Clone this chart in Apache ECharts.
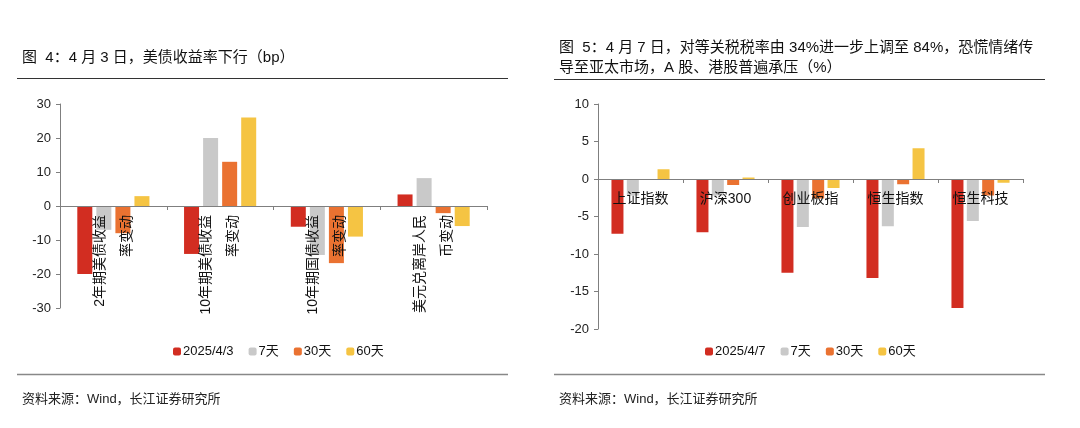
<!DOCTYPE html>
<html>
<head>
<meta charset="utf-8">
<script src="https://cdn.jsdelivr.net/npm/echarts@6/dist/echarts.min.js"></script>
<style>
html, body { margin: 0; padding: 0; background: #fff; }
#main { width: 1080px; height: 428px; }
</style>
</head>
<body>
<div id="main"></div>
<script>
// 图4：美债收益率（bp）
var bondCats = ['2年期美债收益\n率变动', '10年期美债收益\n率变动', '10年期国债收益\n率变动', '美元兑离岸人民\n币变动'];
var bondDay = [-20, -14.1, -6.1, 3.4];
var bond7 = [-7, 20, -14.4, 8.2];
var bond30 = [-8, 13, -16.8, -2.1];
var bond60 = [2.9, 26, -9, -5.9];

// 图5：A股、港股（%）
var eqCats = ['上证指数', '沪深300', '创业板指', '恒生指数', '恒生科技'];
var eqDay = [-7.3, -7.1, -12.5, -13.2, -17.2];
var eq7 = [-2.2, -2.2, -6.4, -6.3, -5.6];
var eq30 = [0, -0.8, -2.6, -0.7, -2.2];
var eq60 = [1.3, 0.2, -1.2, 4.1, -0.5];

var bondNames = ['2025/4/3', '7天', '30天', '60天'];
var eqNames = ['2025/4/7', '7天', '30天', '60天'];
var colors = ['#D22D21', '#C9C9C9', '#EA7231', '#F5C443'];

var FONT = '"Liberation Sans", "Noto Sans CJK SC", sans-serif';
var axisColor = '#7f7f7f';

var myChart = echarts.init(document.getElementById('main'));

function yAxisOf(idx, min, max, interval) {
    return {
        gridIndex: idx,
        type: 'value',
        min: min,
        max: max,
        interval: interval,
        splitLine: { show: false },
        axisLine: { show: true, lineStyle: { color: axisColor, width: 1 } },
        axisTick: { show: true, length: 4, lineStyle: { color: axisColor } },
        axisLabel: { color: '#222', fontSize: 13, fontFamily: FONT, margin: 9 }
    };
}

function barSeries(name, data, idx, color, width, gap) {
    return {
        name: name,
        type: 'bar',
        xAxisIndex: idx,
        yAxisIndex: idx,
        data: data,
        barWidth: width,
        barGap: gap,
        itemStyle: { color: color },
        animation: false
    };
}

var option = {
    backgroundColor: '#fff',
    animation: false,
    textStyle: { fontFamily: FONT },
    title: [{
        text: '图  4：4 月 3 日，美债收益率下行（bp）',
        left: 17, top: 45,
        textStyle: { fontSize: 15, fontWeight: 'normal', color: '#111', fontFamily: FONT }
    }, {
        text: '图  5：4 月 7 日，对等关税税率由 34%进一步上调至 84%，恐慌情绪传\n导至亚太市场，A 股、港股普遍承压（%）',
        left: 554, top: 33,
        textStyle: { fontSize: 15, fontWeight: 'normal', color: '#111', fontFamily: FONT, lineHeight: 20 }
    }, {
        text: '资料来源：Wind，长江证券研究所',
        left: 17, top: 388,
        textStyle: { fontSize: 13, fontWeight: 'normal', color: '#222', fontFamily: FONT }
    }, {
        text: '资料来源：Wind，长江证券研究所',
        left: 554, top: 388,
        textStyle: { fontSize: 13, fontWeight: 'normal', color: '#222', fontFamily: FONT }
    }],
    graphic: [
        { type: 'line', shape: { x1: 17, y1: 78.5, x2: 508, y2: 78.5 }, style: { stroke: '#333', lineWidth: 1 } },
        { type: 'line', shape: { x1: 554, y1: 79.5, x2: 1045, y2: 79.5 }, style: { stroke: '#333', lineWidth: 1 } },
        { type: 'line', shape: { x1: 17, y1: 374.5, x2: 508, y2: 374.5 }, style: { stroke: '#888', lineWidth: 1.5 } },
        { type: 'line', shape: { x1: 554, y1: 374.5, x2: 1045, y2: 374.5 }, style: { stroke: '#888', lineWidth: 1.5 } }
    ],
    legend: [{
        data: bondNames.map(function (n, i) { return { name: n, itemStyle: { color: colors[i] } }; }),
        left: 168, top: 340,
        itemWidth: 8, itemHeight: 8, itemGap: 15,
        textStyle: { fontSize: 13, color: '#111', fontFamily: FONT, padding: [0, 0, 0, -3] },
        selectedMode: false
    }, {
        data: eqNames.map(function (n, i) { return { name: 'e' + n, itemStyle: { color: colors[i] } }; }),
        formatter: function (n) { return n.slice(1); },
        left: 700, top: 340,
        itemWidth: 8, itemHeight: 8, itemGap: 15,
        textStyle: { fontSize: 13, color: '#111', fontFamily: FONT, padding: [0, 0, 0, -3] },
        selectedMode: false
    }],
    grid: [
        { left: 60, top: 104, width: 427, height: 204 },
        { left: 598, top: 104, width: 425, height: 225 }
    ],
    xAxis: [{
        gridIndex: 0,
        type: 'category',
        data: bondCats,
        z: 10,
        axisLine: { onZero: true, lineStyle: { color: axisColor, width: 1 } },
        axisTick: { show: true, length: 4, lineStyle: { color: axisColor } },
        // 标签贴着零轴
        axisLabel: {
            interval: 0, rotate: 90, margin: -93,
            fontSize: 14, lineHeight: 27, color: '#111', fontFamily: FONT
        }
    }, {
        gridIndex: 1,
        type: 'category',
        data: eqCats,
        z: 10,
        axisLine: { onZero: true, lineStyle: { color: axisColor, width: 1 } },
        axisTick: { show: true, length: 4, lineStyle: { color: axisColor } },
        axisLabel: {
            interval: 0, margin: -137,
            fontSize: 14, color: '#111', fontFamily: FONT
        }
    }],
    yAxis: [
        yAxisOf(0, -30, 30, 10),
        yAxisOf(1, -20, 10, 5)
    ],
    series: [
        barSeries(bondNames[0], bondDay, 0, colors[0], 15, '27%'),
        barSeries(bondNames[1], bond7, 0, colors[1], 15, '27%'),
        barSeries(bondNames[2], bond30, 0, colors[2], 15, '27%'),
        barSeries(bondNames[3], bond60, 0, colors[3], 15, '27%'),
        barSeries('e' + eqNames[0], eqDay, 1, colors[0], 12, '28%'),
        barSeries('e' + eqNames[1], eq7, 1, colors[1], 12, '28%'),
        barSeries('e' + eqNames[2], eq30, 1, colors[2], 12, '28%'),
        barSeries('e' + eqNames[3], eq60, 1, colors[3], 12, '28%')
    ]
};

myChart.setOption(option);
window.onresize = myChart.resize;
</script>
</body>
</html>
